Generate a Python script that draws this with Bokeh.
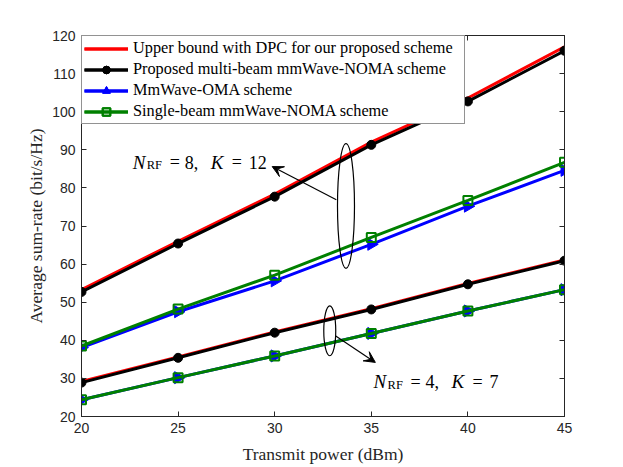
import math
from bokeh.plotting import figure
from bokeh.models import (Range1d, LinearAxis, Legend, LegendItem, Arrow, VeeHead,
                          Label, FixedTicker)
from bokeh.embed import file_html
from bokeh.resources import INLINE

# ---------------- data ----------------
power = [20, 25, 30, 35, 40, 45]

# N_RF = 8, K = 12
dpc_8 = [53.3, 66.0, 78.4, 92.0, 103.6, 117.0]
prop_8 = [52.7, 65.4, 77.7, 91.3, 102.7, 116.0]
oma_8 = [38.1, 47.5, 55.6, 65.2, 75.2, 84.6]
single_8 = [38.5, 48.2, 57.1, 67.0, 76.7, 86.7]

# N_RF = 4, K = 7
dpc_4 = [29.2, 35.6, 42.2, 48.3, 54.9, 61.1]
prop_4 = [28.9, 35.4, 42.0, 48.1, 54.7, 60.9]
oma_4 = [24.4, 30.2, 35.9, 41.8, 47.7, 53.3]
single_4 = [24.4, 30.2, 35.9, 41.8, 47.7, 53.3]

x_ticks = [20, 25, 30, 35, 40, 45]
y_ticks = [20, 30, 40, 50, 60, 70, 80, 90, 100, 110, 120]

labels = ["Upper bound with DPC for our proposed scheme",
          "Proposed multi-beam mmWave-NOMA scheme",
          "MmWave-OMA scheme",
          "Single-beam mmWave-NOMA scheme"]

RED = "#FF0000"
BLACK = "#000000"
BLUE = "#0000FF"
GREEN = "#008000"
AX = "#262626"
SERIF = "Liberation Serif"
SANS = "Liberation Sans"

p = figure(width=623, height=467, output_backend="svg", toolbar_location=None,
           x_range=Range1d(20, 45), y_range=Range1d(20, 120),
           min_border_left=81, min_border_right=59, min_border_top=35,
           min_border_bottom=51, background_fill_color="white",
           border_fill_color="white")
p.grid.visible = False
p.outline_line_color = AX
p.outline_line_width = 1

for ax in (p.xaxis[0], p.yaxis[0]):
    ax.major_tick_in = 5
    ax.major_tick_out = 0
    ax.minor_tick_line_color = None
    ax.axis_line_color = AX
    ax.major_tick_line_color = AX
    ax.major_label_text_font = SANS
    ax.major_label_text_font_size = "14px"
    ax.major_label_text_color = AX
    ax.axis_label_text_font = SERIF
    ax.axis_label_text_font_style = "normal"
    ax.axis_label_text_font_size = "17.5px"
    ax.axis_label_text_color = AX

p.xaxis.ticker = FixedTicker(ticks=x_ticks)
p.yaxis.ticker = FixedTicker(ticks=y_ticks)
p.xaxis.axis_label = "Transmit power (dBm)"
p.yaxis.axis_label = "Average sum-rate (bit/s/Hz)"
p.xaxis.major_label_standoff = 6
p.yaxis.major_label_standoff = 6
p.xaxis.axis_label_standoff = 8
p.yaxis.axis_label_standoff = 3

# top / right ticks (no labels)
top = LinearAxis(ticker=FixedTicker(ticks=x_ticks), major_tick_in=5, major_tick_out=0,
                 minor_tick_line_color=None,
                 major_label_overrides={t: "" for t in x_ticks},
                 axis_line_color=AX, major_tick_line_color=AX)
right = LinearAxis(ticker=FixedTicker(ticks=y_ticks), major_tick_in=5, major_tick_out=0,
                   minor_tick_line_color=None,
                   major_label_overrides={t: "" for t in y_ticks},
                   axis_line_color=AX, major_tick_line_color=AX)
p.add_layout(top, "above")
p.add_layout(right, "right")

LW = 3

def series(y, color, marker, **kw):
    r_line = p.line(power, y, line_color=color, line_width=LW)
    rs = [r_line]
    if marker is not None:
        rs.append(p.scatter(power, y, marker=marker, **kw))
    return rs

items = {i: [] for i in range(4)}
for grp in [(dpc_8, prop_8, oma_8, single_8), (dpc_4, prop_4, oma_4, single_4)]:
    d, pr, o, s = grp
    items[0] += series(d, RED, None)
    items[1] += series(pr, BLACK, "circle", size=9, fill_color=BLACK, line_color=BLACK)
    items[2] += series(o, BLUE, "triangle", size=12, angle=-math.pi / 2,
                       fill_color=BLUE, line_color=BLUE)
    items[3] += series(s, GREEN, "square", size=9, fill_color=None, line_color=GREEN,
                       line_width=2)

legend = Legend(items=[LegendItem(label=labels[i], renderers=items[i]) for i in range(4)],
                location="top_left", margin=0, padding=2, spacing=1,
                label_text_font=SERIF, label_text_font_size="16.3px",
                label_text_color=BLACK, glyph_width=44, glyph_height=19,
                label_height=19, label_width=329, label_standoff=5,
                border_line_color=AX, border_line_width=1,
                background_fill_alpha=1.0)
p.add_layout(legend)

# ---------------- annotations ----------------
ann_color = BLACK
p.ellipse(x=[33.69], y=[75.25], width=[0.88], height=[32.8], fill_color=None,
          line_color=ann_color, line_width=1.2)
p.ellipse(x=[32.85], y=[42.5], width=[0.62], height=[13.1], fill_color=None,
          line_color=ann_color, line_width=1.2)
p.add_layout(Arrow(x_start=33.19, y_start=76.9, x_end=29.87, y_end=85.6,
                   line_color=ann_color, line_width=1.2,
                   end=VeeHead(size=11, fill_color=ann_color, line_color=ann_color)))
p.add_layout(Arrow(x_start=33.14, y_start=41.2, x_end=35.21, y_end=34.2,
                   line_color=ann_color, line_width=1.2,
                   end=VeeHead(size=11, fill_color=ann_color, line_color=ann_color)))

def math_label(x, y, parts):
    for (txt, dx, dy, size, style) in parts:
        p.add_layout(Label(x=x, y=y, x_offset=dx, y_offset=dy, text=txt,
                           text_font=SERIF, text_font_size=size,
                           text_font_style=style, text_color=BLACK,
                           text_baseline="alphabetic", text_align="left"))

math_label(22.65, 86.67, [("N", 0, 0, "19px", "italic"),
                          ("RF", 14, -3, "12.5px", "normal"),
                          ("=", 37, 0, "18px", "normal"),
                          ("8,", 52, 0, "18px", "normal"),
                          ("K", 78, 0, "19px", "italic"),
                          ("=", 99, 0, "18px", "normal"),
                          ("12", 116, 0, "18px", "normal")])
math_label(35.12, 29.1, [("N", 0, 0, "19px", "italic"),
                         ("RF", 14, -3, "12.5px", "normal"),
                         ("=", 37, 0, "18px", "normal"),
                         ("4,", 52, 0, "18px", "normal"),
                         ("K", 78, 0, "19px", "italic"),
                         ("=", 99, 0, "18px", "normal"),
                         ("7", 116, 0, "18px", "normal")])

open("out.html", "w").write(file_html(p, INLINE))
